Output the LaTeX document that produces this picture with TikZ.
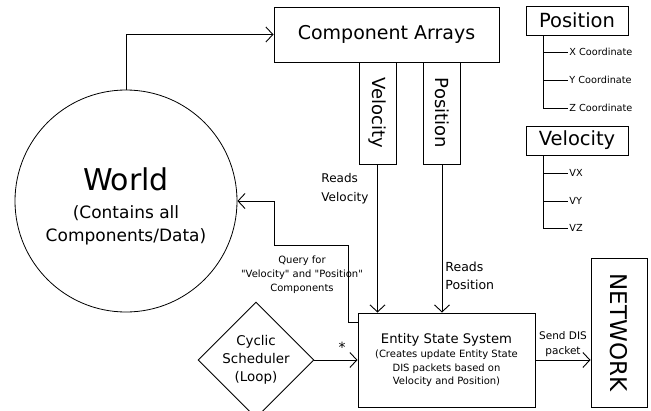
\documentclass[tikz,border=0pt]{standalone}
\usepackage{fontspec}
\setmainfont{DejaVu Sans}
\usetikzlibrary{arrows.meta,shapes.geometric,positioning,calc}

\begin{document}
\begin{tikzpicture}
  [x=1pt,y=1pt,line width=0.9pt,
   >={Straight Barb[length=7pt,width=15pt,line width=0.9pt]},
   box/.style={rectangle,draw=black,line width=1pt,inner sep=0pt},
   column/.style={box,minimum width=37pt,minimum height=102pt,
                  font=\fontsize{18}{20}\selectfont},
   keybox/.style={box,minimum width=102pt,minimum height=29pt,
                  font=\fontsize{19.5}{22}\selectfont},
   leaf/.style={anchor=west,inner sep=1pt,font=\fontsize{9.7}{11}\selectfont},
   note/.style={align=center,inner sep=0pt}]
  \useasboundingbox (0,0) rectangle (651,-410);

  % main blocks
  \node[circle,draw=black,line width=0.8pt,minimum size=222pt,inner sep=0pt]
        (world) at (126,-201) {};
  \node[note,font=\fontsize{17}{23}\selectfont]
        (worldtext) at (126,-206)
        {{\fontsize{30}{34}\selectfont World}\\[5pt]
         (Contains all\\Components/Data)};
  \node[box,minimum width=225pt,minimum height=55pt,font=\fontsize{19}{22}\selectfont]
        (arrays) at (386.5,-34.5) {Component Arrays};
  \node[column] (velcol) at (377.5,-113) {\rotatebox{-90}{Velocity}};
  \node[column] (poscol) at (442,-113)   {\rotatebox{-90}{Position}};
  \node[box,minimum width=177pt,minimum height=94pt,align=center,
        font=\fontsize{10}{13.5}\selectfont]
        (ess) at (446.5,-360)
        {{\fontsize{13.2}{16}\selectfont Entity State System}\\[1pt]
         (Creates update Entity State\\
         DIS packets based on\\Velocity and Position)};
  \node[diamond,draw=black,line width=0.9pt,minimum width=94pt,minimum height=94pt,
        inner sep=0pt,align=center,font=\fontsize{13.4}{18}\selectfont]
        (sched) at (256,-360) {Cyclic\\Scheduler\\(Loop)};
  \node[box,minimum width=56pt,minimum height=149pt,font=\fontsize{23}{26}\selectfont]
        (network) at (619,-332.5) {\rotatebox{-90}{NETWORK}};

  % key on the right
  \node[keybox] (poskey) at (577,-20.5)  {Position};
  \node[keybox] (velkey) at (577,-140.5) {Velocity};
  \foreach \name/\y/\text in {xc/52/X Coordinate,yc/80/Y Coordinate,zc/108/Z Coordinate}
  {
    \node[leaf] (\name) at (568,-\y) {\text};
    \draw ([xshift=18pt]poskey.south west) |- (\name.west);
  }
  \foreach \name/\y/\text in {vx/173/VX,vy/201/VY,vz/228/VZ}
  {
    \node[leaf] (\name) at (568,-\y) {\text};
    \draw ([xshift=18pt]velkey.south west) |- (\name.west);
  }

  % connectors
  \draw [->] (world.north) |- (arrays.west);
  \draw [->] (velcol.south) -- (velcol.south |- ess.north);
  \draw [->] (poscol.south) -- (poscol.south |- ess.north);
  \coordinate (qbend) at (274,-245);
  \draw [->] ([yshift=-10pt]ess.north west) -- ++(-9,0) |- (qbend) |- (world.east);
  \draw [->] (sched.east) -- (ess.west);
  \draw [->] (ess.east) -- (ess.east -| network.west);

  % labels
  \node[note,anchor=west,align=left,font=\fontsize{12}{19}\selectfont]
        (readvel) at (321,-188.5) {Reads\\Velocity};
  \node[note,anchor=west,align=left,font=\fontsize{12.5}{18}\selectfont]
        (readpos) at (445,-276) {Reads\\Position};
  \node[note,font=\fontsize{10}{14}\selectfont]
        (query) at (302,-275)
        {Query for\\\textquotedbl Velocity\textquotedbl{} and \textquotedbl Position\textquotedbl\\Components};
  \node[note,font=\fontsize{14}{14}\selectfont] (star) at (342,-347) {*};
  \node[note,font=\fontsize{10.5}{15}\selectfont]
        (send) at (563,-344) {Send DIS\\packet};
\end{tikzpicture}
\end{document}
